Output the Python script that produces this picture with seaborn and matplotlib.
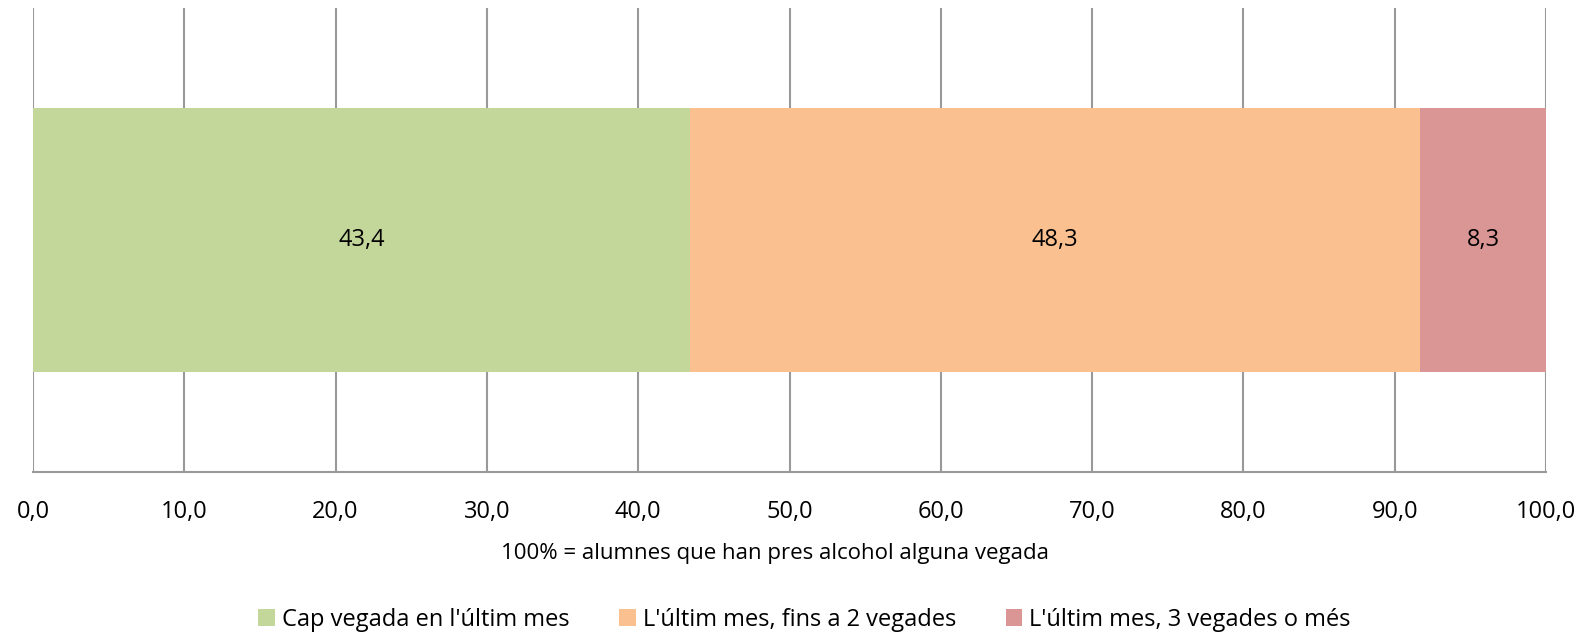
import numpy as np
import pandas as pd
import matplotlib
matplotlib.use('Agg')
import matplotlib.pyplot as plt
import seaborn as sns
from matplotlib.patches import Patch

# data
categories = ["Cap vegada en l'últim mes", "L'últim mes, fins a 2 vegades", "L'últim mes, 3 vegades o més"]
values = [43.4, 48.3, 8.3]
colors = ['#C4D79B', '#FAC090', '#D99694']
xticks = [0, 10, 20, 30, 40, 50, 60, 70, 80, 90, 100]
xlabel = '100% = alumnes que han pres alcohol alguna vegada'

sns.set_style('white')
plt.rcParams['font.family'] = ['Open Sans', 'DejaVu Sans']
plt.rcParams['text.color'] = 'black'
plt.rcParams['axes.labelcolor'] = 'black'

fig = plt.figure(figsize=(15.83, 6.33), dpi=100)
ax = fig.add_axes([33 / 1583, 1 - 472 / 633, (1546 - 33) / 1583, (472 - 8) / 633])

cum = np.cumsum(values)
starts = cum - np.array(values)

# stacked bar: draw cumulative totals, largest first
for i in range(len(values) - 1, -1, -1):
    df = pd.DataFrame({'val': [cum[i]], 'grp': ['all']})
    sns.barplot(data=df, x='val', y='grp', orient='h', color=colors[i],
                saturation=1, width=0.571, ax=ax, zorder=3, linewidth=0, edgecolor='none')

for s, v in zip(starts, values):
    ax.text(s + v / 2, 0, f'{v:.1f}'.replace('.', ','), ha='center', va='center',
            fontsize=17, color='black', zorder=4)

ax.set_xlim(0, 100)
ax.set_ylim(0.5, -0.5)
ax.set_xticks(xticks)
ax.set_xticklabels([f'{t:.1f}'.replace('.', ',') for t in xticks], fontsize=17)
ax.set_yticks([])
ax.set_ylabel('')
ax.set_xlabel(xlabel, fontsize=16, labelpad=14, color='black', x=0.4907)

ax.grid(axis='x', color='#999999', linewidth=1.5, zorder=0)
ax.set_axisbelow(True)
for side in ['top', 'right', 'left']:
    ax.spines[side].set_visible(False)
ax.spines['bottom'].set_color('#999999')
ax.spines['bottom'].set_linewidth(1.5)
ax.tick_params(axis='x', length=8, width=1.5, color='#999999', pad=12, labelcolor='black')

handles = [Patch(facecolor=c, edgecolor='none') for c in colors]
fig.legend(handles, categories, loc='center', bbox_to_anchor=(0.5083, 1 - 620 / 633),
           ncol=3, frameon=False, fontsize=17, handlelength=0.7, handleheight=0.7,
           handletextpad=0.3, columnspacing=2.1)

fig.savefig('out.png', dpi=100)
